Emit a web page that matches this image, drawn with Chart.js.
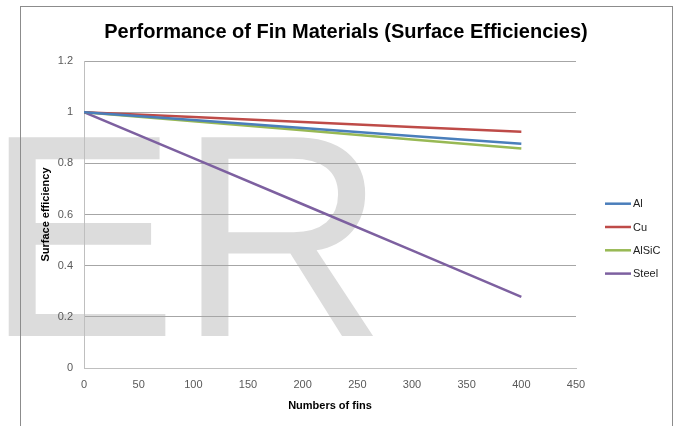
<!DOCTYPE html>
<html>
<head>
<meta charset="utf-8">
<script src="https://cdn.jsdelivr.net/npm/chart.js@4/dist/chart.umd.min.js"></script>
<style>
  html, body { margin: 0; padding: 0; background: #ffffff; }
  #wrap { width: 675px; height: 426px; position: relative; }
</style>
</head>
<body>
<div id="wrap"><canvas id="chart" width="675" height="426"></canvas></div>
<script>
// Number of fins sampled along the x axis
const finCounts = [0, 100, 200, 300, 400];

// Surface efficiency for each fin material
const effAl    = [1.000, 0.969, 0.938, 0.907, 0.877];
const effCu    = [1.000, 0.981, 0.962, 0.942, 0.923];
const effAlSiC = [1.000, 0.964, 0.929, 0.893, 0.858];
const effSteel = [1.000, 0.820, 0.640, 0.460, 0.278];

const seriesNames  = ['Al', 'Cu', 'AlSiC', 'Steel'];
const seriesColors = ['#4A7EBB', '#BE4B48', '#98B954', '#7D60A0'];

const chartTitle = 'Performance of Fin Materials (Surface Efficiencies)';
const xAxisTitle = 'Numbers of fins';
const yAxisTitle = 'Surface efficiency';
const watermark  = 'ER';

const FONT = '"Liberation Sans", Arial, sans-serif';

function toPoints(values) {
  return finCounts.map((x, i) => ({ x: x, y: values[i] }));
}

const allSeries = [effAl, effCu, effAlSiC, effSteel];
const datasets = allSeries.map((vals, i) => ({
  label: seriesNames[i],
  data: toPoints(vals),
  borderColor: seriesColors[i],
  backgroundColor: seriesColors[i],
  borderWidth: 2.5,
  pointRadius: 0,
  pointHoverRadius: 0,
  tension: 0,
  fill: false
}));

// Background: white fill, faint lettering, chart frame and heading
const backdrop = {
  id: 'backdrop',
  beforeDraw(chart) {
    const ctx = chart.ctx;
    ctx.save();
    ctx.fillStyle = '#ffffff';
    ctx.fillRect(0, 0, chart.width, chart.height);

    ctx.fillStyle = '#DCDCDC';
    ctx.font = '289px ' + FONT;
    ctx.textAlign = 'left';
    ctx.textBaseline = 'alphabetic';
    ctx.fillText(watermark, -15, 336);

    ctx.strokeStyle = '#8C8C8C';
    ctx.lineWidth = 1;
    ctx.strokeRect(20.5, 6.5, 652, 440);

    ctx.fillStyle = '#000000';
    ctx.font = 'bold 20px ' + FONT;
    ctx.textAlign = 'center';
    ctx.fillText(chartTitle, 346, 38);
    ctx.restore();
  }
};

// Legend listing the series to the right of the plot
const sideLegend = {
  id: 'sideLegend',
  afterDraw(chart) {
    const ctx = chart.ctx;
    ctx.save();
    ctx.font = '11px ' + FONT;
    ctx.textAlign = 'left';
    ctx.textBaseline = 'middle';
    const top = 203.7, step = 23.3;
    chart.data.datasets.forEach((ds, i) => {
      const y = top + i * step;
      ctx.strokeStyle = ds.borderColor;
      ctx.lineWidth = 2.5;
      ctx.beginPath();
      ctx.moveTo(605, y);
      ctx.lineTo(631, y);
      ctx.stroke();
      ctx.fillStyle = '#222222';
      ctx.fillText(ds.label, 633, y + 0.5);
    });
    ctx.restore();
  }
};

new Chart(document.getElementById('chart'), {
  type: 'line',
  data: { datasets: datasets },
  plugins: [backdrop, sideLegend],
  options: {
    responsive: false,
    animation: false,
    devicePixelRatio: 1,
    layout: { padding: { left: 35, right: 99, top: 61, bottom: 10 } },
    plugins: {
      legend: { display: false },
      title: { display: false },
      tooltip: { enabled: false }
    },
    scales: {
      x: {
        type: 'linear',
        min: 0,
        max: 450,
        afterFit(scale) { scale.height = 48; },
        ticks: {
          stepSize: 50,
          padding: 10,
          color: '#595959',
          font: { family: FONT, size: 11 }
        },
        grid: { display: false, drawTicks: false },
        border: { display: true, color: '#BFBFBF', width: 1 },
        title: {
          display: true,
          text: xAxisTitle,
          color: '#000000',
          font: { family: FONT, size: 11, weight: 'bold' },
          padding: { top: 0, bottom: 3 }
        }
      },
      y: {
        type: 'linear',
        min: 0,
        max: 1.2,
        afterFit(scale) { scale.width = 49; },
        ticks: {
          stepSize: 0.2,
          padding: 11,
          color: '#595959',
          font: { family: FONT, size: 11 },
          callback: (v) => String(Math.round(v * 10) / 10)
        },
        grid: { color: '#A6A6A6', lineWidth: 1, drawTicks: false },
        border: { display: true, color: '#BFBFBF', width: 1 },
        title: {
          display: true,
          text: yAxisTitle,
          color: '#000000',
          font: { family: FONT, size: 11, weight: 'bold' },
          padding: { top: 4, bottom: 0 }
        }
      }
    }
  }
});
</script>
</body>
</html>
